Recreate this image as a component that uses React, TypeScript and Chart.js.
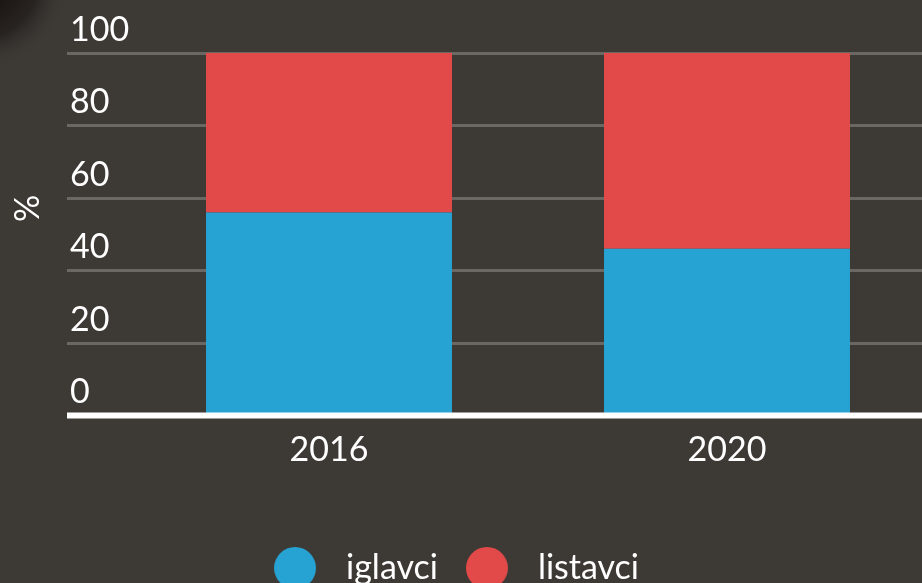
import React, { useEffect, useRef } from 'react';
import { Chart, registerables } from 'chart.js';

Chart.register(...registerables);

const categories = ['2016', '2020'];
const seriesNames = ['iglavci', 'listavci'];
const iglavci = [56, 46];
const listavci = [44, 54];
const yTicks = [0, 20, 40, 60, 80, 100];
const yTitle = '%';

const FONT = 'Lato, "Open Sans", sans-serif';
const BLUE = '#26a2d3';
const RED = '#e24a4a';
const BG = '#3d3935';
const GRID = '#6b6763';

function makeDot(color: string): HTMLCanvasElement {
  const c = document.createElement('canvas');
  c.width = 42;
  c.height = 42;
  const g = c.getContext('2d')!;
  g.fillStyle = color;
  g.beginPath();
  g.arc(21, 21, 21, 0, Math.PI * 2);
  g.fill();
  return c;
}

const bgPlugin = {
  id: 'bg',
  beforeDraw(chart: any) {
    const { ctx, width, height } = chart;
    ctx.save();
    ctx.fillStyle = BG;
    ctx.fillRect(0, 0, width, height);
    const grad = ctx.createRadialGradient(-20, -20, 10, -20, -20, 90);
    grad.addColorStop(0, 'rgba(20,14,12,1)');
    grad.addColorStop(0.6, 'rgba(25,20,18,0.6)');
    grad.addColorStop(1, 'rgba(61,57,53,0)');
    ctx.fillStyle = grad;
    ctx.fillRect(0, 0, 120, 120);
    ctx.restore();
  },
};

const overlayPlugin = {
  id: 'overlay',
  afterDatasetsDraw(chart: any) {
    const { ctx, chartArea } = chart;
    const y = chart.scales.y;
    const y0 = y.getPixelForValue(0);
    ctx.save();
    ctx.strokeStyle = '#ffffff';
    ctx.lineWidth = 6;
    ctx.beginPath();
    ctx.moveTo(chartArea.left - 63, y0);
    ctx.lineTo(chart.width, y0);
    ctx.stroke();
    // axis title
    ctx.translate(28, (chartArea.top + chartArea.bottom) / 2 - 26);
    ctx.rotate(-Math.PI / 2);
    ctx.fillStyle = '#ffffff';
    ctx.font = `34px ${FONT}`;
    ctx.textAlign = 'center';
    ctx.textBaseline = 'middle';
    ctx.fillText(yTitle, 0, 0);
    ctx.restore();
  },
};

export default function App() {
  const ref = useRef<HTMLCanvasElement>(null);

  useEffect(() => {
    const dots = [makeDot(BLUE), makeDot(RED)];
    const chart = new Chart(ref.current!, {
      type: 'bar',
      data: {
        labels: categories,
        datasets: [
          { label: seriesNames[0], data: iglavci, backgroundColor: BLUE, borderWidth: 0 },
          { label: seriesNames[1], data: listavci, backgroundColor: RED, borderWidth: 0 },
        ],
      },
      options: {
        animation: false,
        responsive: true,
        maintainAspectRatio: false,
        layout: { padding: { top: 53, left: -26, right: 0, bottom: 0 } },
        datasets: { bar: { categoryPercentage: 1, barPercentage: 0.618 } },
        plugins: {
          tooltip: { enabled: false },
          legend: {
            position: 'bottom',
            labels: {
              usePointStyle: true,
              pointStyleWidth: 68,
              boxHeight: 30,
              padding: 15,
              color: '#ffffff',
              font: { family: FONT, size: 34 },
              generateLabels: (ch: any) =>
                ch.data.datasets.map((ds: any, i: number) => ({
                  text: ds.label,
                  fillStyle: ds.backgroundColor,
                  strokeStyle: ds.backgroundColor,
                  lineWidth: 0,
                  pointStyle: dots[i],
                  hidden: false,
                  datasetIndex: i,
                  fontColor: '#ffffff',
                })),
            },
          },
        },
        scales: {
          x: {
            stacked: true,
            grid: { display: false, drawTicks: false },
            border: { display: false },
            ticks: { color: '#ffffff', font: { family: FONT, size: 34 }, padding: 14 },
            afterFit: (s: any) => { s.height = 120.5; },
          },
          y: {
            stacked: true,
            min: 0,
            max: 100,
            afterBuildTicks: (s: any) => { s.ticks = yTicks.map((v) => ({ value: v })); },
            afterFit: (s: any) => { s.width = 156; },
            border: { display: false },
            grid: {
              color: (c: any) => (c.tick && c.tick.value === 0 ? 'rgba(0,0,0,0)' : GRID),
              tickColor: (c: any) => (c.tick && c.tick.value === 0 ? 'rgba(0,0,0,0)' : GRID),
              lineWidth: 3,
              tickWidth: 3,
              drawTicks: true,
              tickLength: 63,
            },
            ticks: {
              mirror: true,
              crossAlign: 'near',
              padding: -60,
              labelOffset: -23,
              color: '#ffffff',
              font: { family: FONT, size: 34 },
            },
          },
        },
      },
      plugins: [bgPlugin, overlayPlugin],
    } as any);
    return () => chart.destroy();
  }, []);

  return (
    <div style={{ position: 'fixed', left: 0, top: 0, width: 922, height: 583, overflow: 'hidden', background: BG }}>
      <div style={{ position: 'absolute', left: 0, top: 0, width: 926, height: 595 }}>
        <canvas ref={ref} />
      </div>
    </div>
  );
}
